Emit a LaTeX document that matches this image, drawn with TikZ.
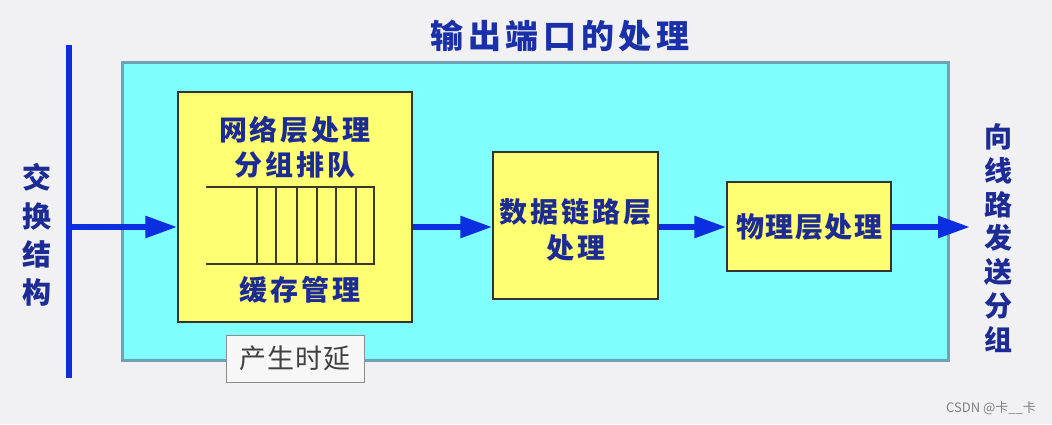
\documentclass[tikz,border=0pt]{standalone}
\usepackage{fontspec}
\setmainfont{Noto Sans CJK SC}
\usetikzlibrary{arrows.meta}
\definecolor{bg}{HTML}{F1F1F3}
\definecolor{cyanfill}{HTML}{80FFFF}
\definecolor{cyanedge}{HTML}{6FA3B3}
\definecolor{yel}{HTML}{FFFF73}
\definecolor{navy}{HTML}{1C2C94}
\definecolor{titleblue}{HTML}{1A30A8}
\definecolor{flowblue}{HTML}{0A2EE0}
\definecolor{qline}{HTML}{3A3A2A}
\def\mylsk{0pt}
\newcommand\myls[2]{\def\mylsk{#1}\mylsA#2\relax}
\def\mylsA#1{#1\mylsB}
\def\mylsB#1{\ifx#1\relax\else\kern\mylsk\relax#1\expandafter\mylsB\fi}
\tikzset{
  ybox/.style={draw=black!80, line width=1.5pt, fill=yel, inner sep=0pt},
  btext/.style={text=navy, font=\bfseries\fontsize{28}{36}\selectfont, inner sep=0pt},
  vtext/.style={text=navy, align=center, inner sep=0pt},
  flow/.style={draw=flowblue, line width=6pt, -{Triangle[length=32pt,width=21pt]}, color=flowblue},
}
\begin{document}
\begin{tikzpicture}[x=1pt,y=-1pt]
\fill[bg] (0,0) rectangle (1052,424);
\useasboundingbox (0,0) rectangle (1052,424);
% title
\node[text=titleblue, font=\bfseries\fontsize{33}{36}\selectfont, inner sep=0pt] (title) at (560,36) {\myls{4.7pt}{输出端口的处理}};
% cyan area
\draw[cyanedge, line width=3pt, fill=cyanfill] (122,62) rectangle (948,360);
% switching fabric bus
\coordinate (bustop) at (69,45);
\coordinate (busbot) at (69,378);
\draw[flowblue, line width=5.5pt] (bustop) -- (busbot);
\coordinate (busin) at (69,227);
\node[vtext, font=\bfseries\fontsize{29}{38.3}\selectfont] (lt) at (37,235) {交\\换\\结\\构};
% box 1
\node[ybox, minimum width=234pt, minimum height=230pt] (box1) at (295,207) {};
\node[btext] (t1a) at (295,130) {\myls{3pt}{网络层处理}};
\node[btext] (t1b) at (295,165) {\myls{3pt}{分组排队}};
\node[btext] (t1c) at (300,290) {\myls{3pt}{缓存管理}};
\draw[qline, line width=1.2pt] (206,187) -- (374,187) -- (374,264) -- (206,264);
\foreach \x in {257,276,297,317,336,356}{
  \draw[qline, line width=1.2pt] (\x,187) -- (\x,264);
}
% delay label
\node[draw=black!45, line width=1pt, fill=white!97!black, minimum width=138pt, minimum height=47pt, inner sep=0pt,
      text=black!75, font=\fontsize{27}{30}\selectfont] (delay) at (295,358.5) {\myls{1pt}{产生时延}};
% box 2
\node[ybox, minimum width=165pt, minimum height=147pt] (box2) at (575.5,225.5) {};
\node[btext] (t2a) at (575.5,212) {\myls{3pt}{数据链路层}};
\node[btext] (t2b) at (575.5,248) {\myls{3pt}{处理}};
% box 3
\node[ybox, minimum width=164pt, minimum height=89pt] (box3) at (809,226.5) {};
\node[btext] (t3) at (809,227) {\myls{1.5pt}{物理层处理}};
% output
\coordinate (out) at (970,227);
\node[vtext, font=\bfseries\fontsize{28}{33.8}\selectfont] (rt) at (998,238) {向\\线\\路\\发\\送\\分\\组};
% arrows
\draw[flow] (busin) -- (busin -| box1.west);
\draw[flow] (busin -| box1.east) -- (busin -| box2.west);
\draw[flow] (busin -| box2.east) -- (busin -| box3.west);
\draw[flow] (busin -| box3.east) -- (out);
% watermark
\node[text=black!50, font=\fontsize{13}{15}\selectfont, inner sep=0pt] (wm) at (991,408) {CSDN @卡\_\_卡};
\end{tikzpicture}
\end{document}
